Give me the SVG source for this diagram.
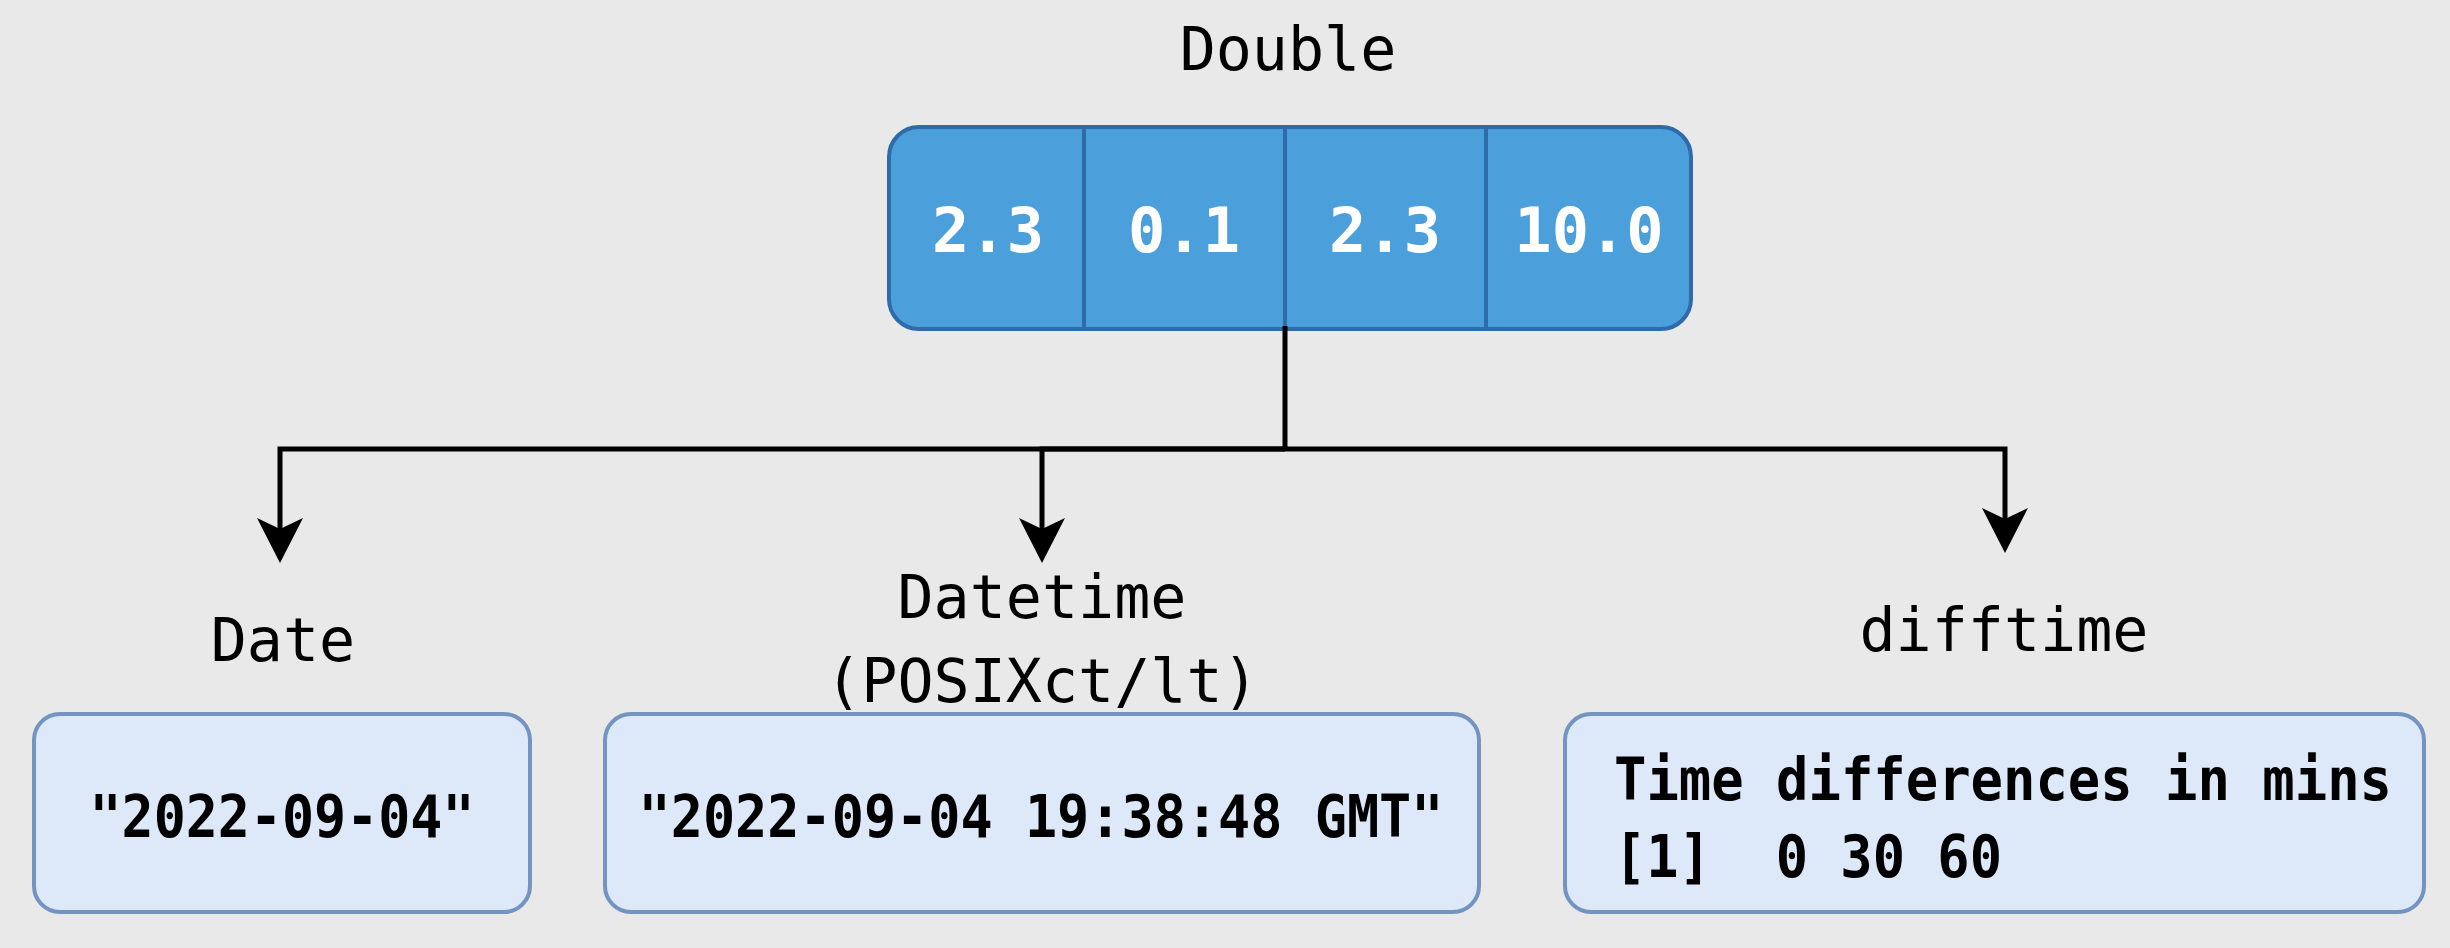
<svg xmlns="http://www.w3.org/2000/svg" width="2450" height="948" viewBox="0 0 2450 948">
  <defs>
    <marker id="arrow" viewBox="0 0 45 46" markerWidth="45" markerHeight="46" refX="11" refY="23" orient="auto" markerUnits="userSpaceOnUse">
      <path d="M0,0 L45,23 L0,46 L11,23 Z" fill="#000"/>
    </marker>
  </defs>
  <style>
    .lbl { font-family: "DejaVu Sans Mono", "Liberation Mono", monospace; font-size: 60px; fill: #000; text-anchor: middle; }
    .cell { font-family: "DejaVu Sans Mono", "Liberation Mono", monospace; font-size: 62px; font-weight: bold; fill: #fff; text-anchor: middle; }
    .val { font-family: "DejaVu Sans Mono", "Liberation Mono", monospace; font-size: 58px; font-weight: bold; fill: #000; }
    .lightbox { fill: #dde8f9; stroke: #7393c1; stroke-width: 4; }
    .blue { fill: #4ba0dc; stroke: #2e6ba8; stroke-width: 4; }
    .conn { fill: none; stroke: #000; stroke-width: 5; }
  </style>
  <rect x="0" y="0" width="2450" height="948" fill="#e9e9e9"/>

  <g id="double">
    <text class="lbl" x="1288" y="70">Double</text>
    <rect class="blue" x="889" y="127" width="802" height="202" rx="30" ry="30"/>
    <rect class="blue" x="1084" y="127" width="402" height="202"/>
    <line x1="1285" y1="127" x2="1285" y2="329" stroke="#2e6ba8" stroke-width="4"/>
    <text class="cell" x="988" y="252">2.3</text>
    <text class="cell" x="1184" y="252">0.1</text>
    <text class="cell" x="1385" y="252">2.3</text>
    <text class="cell" x="1589" y="252">10.0</text>
  </g>

  <g id="connectors">
    <path class="conn" d="M1285,326 V449"/>
    <path class="conn" d="M1285,449 H280 V529" marker-end="url(#arrow)"/>
    <path class="conn" d="M1285,449 H1042 V529" marker-end="url(#arrow)"/>
    <path class="conn" d="M1285,449 H2005 V519" marker-end="url(#arrow)"/>
  </g>

  <g id="date">
    <text class="lbl" x="283" y="661">Date</text>
    <rect class="lightbox" x="34" y="714" width="496" height="198" rx="26" ry="26"/>
    <text class="val" x="282" y="837" text-anchor="middle" textLength="385" lengthAdjust="spacingAndGlyphs">"2022-09-04"</text>
  </g>

  <g id="datetime">
    <text class="lbl" x="1042" y="618">Datetime</text>
    <text class="lbl" x="1042" y="702">(POSIXct/lt)</text>
    <rect class="lightbox" x="605" y="714" width="874" height="198" rx="26" ry="26"/>
    <text class="val" x="1041" y="837" text-anchor="middle" textLength="805" lengthAdjust="spacingAndGlyphs">"2022-09-04 19:38:48 GMT"</text>
  </g>

  <g id="difftime">
    <text class="lbl" x="2004" y="651">difftime</text>
    <rect class="lightbox" x="1565" y="714" width="859" height="198" rx="26" ry="26"/>
    <text class="val" x="1614" y="800" textLength="778" lengthAdjust="spacingAndGlyphs">Time differences in mins</text>
    <text class="val" x="1614" y="877" xml:space="preserve" textLength="388" lengthAdjust="spacingAndGlyphs">[1]  0 30 60</text>
  </g>
</svg>
